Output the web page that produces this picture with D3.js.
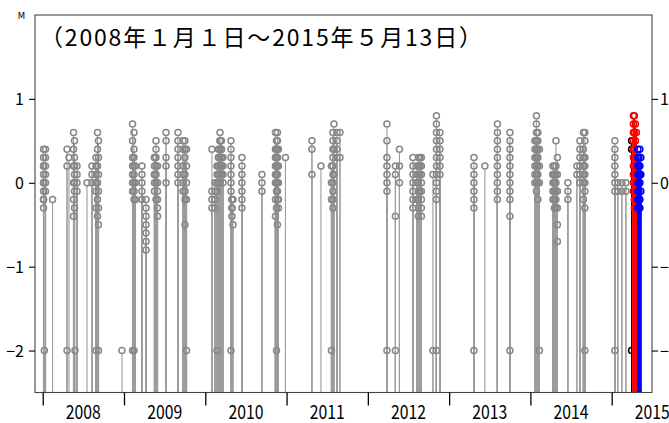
<!DOCTYPE html>
<html><head><meta charset="utf-8">
<script src="https://cdn.jsdelivr.net/npm/d3@7"></script>
<style>body{margin:0;background:#fff;} svg{display:block;}</style>
</head><body><svg id="c" width="669" height="423"></svg>
<script>
// ---- data (decimal year, list of magnitudes at that time) ----
const titleText = "（2008年１月１日～2015年５月13日）";
const yTickValues = [1, 0, -1, -2];
const yTickLabels = ["1", "0", "−1", "−2"];
const yearTicks = [2008, 2009, 2010, 2011, 2012, 2013, 2014, 2015];
const yearLabels = ["2008", "2009", "2010", "2011", "2012", "2013", "2014", "2015"];

const grayTimes = [2008.010, 2008.020, 2008.034, 2008.121, 2008.299, 2008.323, 2008.379, 2008.391, 2008.397, 2008.422,
  2008.545, 2008.606, 2008.656, 2008.674, 2008.686, 2008.975, 2009.105, 2009.123, 2009.141, 2009.221,
  2009.271, 2009.375, 2009.394, 2009.412, 2009.517, 2009.664, 2009.726, 2009.750, 2009.769, 2010.082,
  2010.119, 2010.144, 2010.162, 2010.181, 2010.199, 2010.218, 2010.316, 2010.328, 2010.341, 2010.451,
  2010.697, 2010.863, 2010.876, 2010.888, 2010.900, 2010.986, 2011.312, 2011.423, 2011.552, 2011.571,
  2011.583, 2011.620, 2011.657, 2012.235, 2012.339, 2012.389, 2012.555, 2012.604, 2012.622, 2012.641,
  2012.659, 2012.801, 2012.844, 2012.887, 2013.305, 2013.440, 2013.594, 2013.748, 2014.055, 2014.074,
  2014.092, 2014.111, 2014.277, 2014.295, 2014.314, 2014.332, 2014.461, 2014.572, 2014.609, 2014.652,
  2014.670, 2015.039, 2015.076, 2015.126, 2015.175];
const grayMags = [
  [0.4,0.3,0.2,0.1,0.0,-0.1,-0.2,-0.3,0.2,0.0,-0.2], [-2], [0.4,0.3,0.2,0.1,0.0,-0.1], [-0.2],
  [0.4,0.2,-2], [0.3], [0.6,0.4,0.2,0.0,-0.2,-0.4], [0.5,0.3,0.1,-0.1,-0.3,0.2,0.0], [-2], [0.2,0.1,0.0,-0.1],
  [0.0], [0.2,0.1,0.0], [0.3,0.1,-0.1,-0.3,-2,0.2,0.0], [0.6,0.4,0.2,0.0,-0.2,-0.4], [0.5,0.3,0.1,-0.1,-0.3,-0.5,-2],
  [-2], [0.7,0.5,0.3,0.1,-0.1,-2,0.2,0.0], [0.6,0.4,0.2,0.0,-0.2,0.3,0.1,-0.1,-2], [0.2,0.0,-0.2], [0.2,0.1,0.0,-0.1,-0.2],
  [-0.2,-0.3,-0.4,-0.5,-0.6,-0.7,-0.8], [0.3,0.2,0.1,0.0,-0.1,0.3,0.1], [0.5,0.4,0.3,0.2,0.1,0.0,-0.2], [0.2,0.0,-0.1,-0.2,-0.3,-0.4],
  [0.6,0.5,0.3,0.2,0.0], [0.6,0.5,0.4,0.3,0.2,0.1,0.0], [0.5,0.4,0.2,0.0,-0.1,0.1], [0.5,0.3,0.1,-0.1,-0.2,-0.5,0.4],
  [0.2,0.0,-0.2,-2,0.4], [0.4,-0.1,-0.2,-0.3],
  [-0.1,-0.2,-0.3,0.0], [-2,0.1,0.0,-0.1,0.2], [0.4,0.3,0.2,0.1,0.0,0.3], [0.6,0.5,0.4,0.3,0.2,0.1,0.0,0.2,0.5],
  [0.5,0.4,0.3,0.2,0.1,0.4,0.2], [0.3,0.2,0.1,0.0], [0.5,0.4,0.3,0.2,0.1,0.0,-0.1,-2], [-0.2,-0.2,-0.3,-0.4,-0.3],
  [-0.5,-0.2], [0.3,0.2,0.1,0.0,-0.1,-0.2,-0.3],
  [0.1,0.0,-0.1], [0.6,0.4,0.2,0.0,-0.2,-0.4,0.3,0.1], [0.5,0.3,0.1,-0.1,-0.3,-2,0.4,0.2,0.0],
  [0.6,0.5,0.4,0.3,0.2,0.1,0.0,-0.1,-0.2,-0.5], [0.4,0.2,0.0,-0.2,-0.3], [0.3], [0.5,0.4,0.1], [0.2],
  [-2,0.2,0.0,-0.2], [0.6,0.5,0.4,0.3,0.2,0.1,0.0,-0.1,-0.2,-0.3],
  [0.7,0.4,0.1], [0.6,0.5,0.4,0.3], [0.6,0.3], [0.7,0.5,0.3,0.2,0.1,0.0,-0.1,-2], [0.2,0.1,-0.4,-2], [0.4,0.2,0.0],
  [0.3,0.1,0.0,-0.1,-0.2,-0.3,0.2], [0.2,0.0,-0.2,0.1], [0.3,0.2,0.1,0.0,-0.1,-0.2,-0.3,-0.4], [0.3,0.1,-0.1,0.2],
  [0.3,0.2,0.1,0.0,-0.1,-0.2,-0.3,-0.4], [0.1,-2], [0.8,0.7,0.6,0.5,0.4,0.3,0.2,0.1,0.0,-0.1,-0.2,-2], [0.6,0.5,0.4,0.3,0.2,0.1],
  [0.3,0.2,0.1,0.0,-0.1,-0.2,-0.3,-2], [0.2], [0.7,0.6,0.5,0.4,0.3,0.2,0.1,0.0,-0.1,-0.2],
  [0.6,0.5,0.4,0.3,0.2,0.1,0.0,-0.1,-0.2,-0.4,-2], [0.5,0.4,0.3,0.2,0.1,0.0], [0.8,0.7,0.6,0.5,0.4,0.3,0.2,0.1,0.0,-0.1],
  [0.6,0.5,0.4,0.3,0.2,0.1,0.0,-0.2], [0.4,0.2,0.0,-2], [0.2,0.1,0.0,-0.1,-0.2,0.1], [0.2,0.1,0.0,-0.1,-0.2,-0.3],
  [0.5,0.2,0.1,0.0,-0.1,-0.2,-0.3], [0.3,0.1,-0.1,-0.3,-0.5,-0.7], [0.0,-0.1,-0.2], [0.2,0.1], [0.5,0.4,0.3,0.2,0.1,0.0],
  [0.6,0.4,0.2,0.0,-0.2,0.3,0.1], [0.6,0.5,0.3,0.1,-0.1,-0.3,-2,0.2,0.0], [0.5,0.4,0.3,0.2,0.1,0.0,-0.1,-2],
  [0.0,-0.1], [0.0,-0.1], [0.0,-0.1]];

const blackTimes = [2015.245];
const blackMags = [[0.5, 0.4, -2]];

const redTimes = [2015.267, 2015.279, 2015.292, 2015.304];
const redMags = [[0.8,0.7,0.6,0.5,0.4,0.3,0.2,0.1,0.0,-0.1], [0.8,0.6,0.4,0.2,0.0,-0.2,-0.3],
  [0.7,0.5,0.3,0.1,-0.1,-0.4], [0.6,0.2,0.0,-0.2]];

const blueTimes = [2015.322, 2015.335, 2015.347, 2015.359];
const blueMags = [[0.4,0.3,0.2,0.1,0.0,-0.1,-0.2,-0.3], [0.3,0.2,0.1,0.0,-0.1,-0.2,-0.3],
  [0.4,0.2,0.0,-0.2,-0.3,0.1], [0.3,0.1,-0.1]];

// ---- chart ----
const L = 35, R = 652, T = 15, B = 392.5;
const svg = d3.select("#c");
const x = d3.scaleLinear().domain([2007.905, 2015.496]).range([L, R]);
const y = d3.scaleLinear().domain([-2.5, 2.0]).range([B, T]);
const FONT = "'Noto Sans CJK JP', 'Noto Sans', sans-serif";

svg.append("defs").append("clipPath").attr("id", "pc")
  .append("rect").attr("x", L).attr("y", T).attr("width", R - L).attr("height", B - T);

function flatten(times, mags) {
  const out = [];
  times.forEach((t, i) => mags[i].forEach(m => out.push({ t, m })));
  return out;
}

const groups = [
  { data: flatten(grayTimes, grayMags), line: "#9c9c9c", dot: "#878787", lw: 1.1 },
  { data: flatten(blackTimes, blackMags), line: "#000", dot: "#000", lw: 1 },
  { data: flatten(redTimes, redMags), line: "#ff0000", dot: "#ff0000", lw: 1.2 },
  { data: flatten(blueTimes, blueMags), line: "#0000ff", dot: "#0000ff", lw: 1.2 }
];
const r = 3;
const plot = svg.append("g").attr("clip-path", "url(#pc)");
groups.forEach(g => {
  plot.append("g").selectAll("line").data(g.data).join("line")
    .attr("x1", d => x(d.t)).attr("x2", d => x(d.t))
    .attr("y1", d => y(d.m) + r).attr("y2", B)
    .attr("stroke", g.line).attr("stroke-width", g.lw);
  plot.append("g").selectAll("circle").data(g.data).join("circle")
    .attr("cx", d => x(d.t)).attr("cy", d => y(d.m)).attr("r", r)
    .attr("fill", "none").attr("stroke", g.dot).attr("stroke-width", 1.5);
});

// frame
svg.append("rect").attr("x", L).attr("y", T).attr("width", R - L).attr("height", B - T)
  .attr("fill", "none").attr("stroke", "#444").attr("stroke-width", 1.1);

// left axis
const ax = svg.append("g").attr("transform", `translate(${L},0)`)
  .call(d3.axisLeft(y).tickValues(yTickValues).tickSize(6).tickFormat((d, i) => yTickLabels[i]));
ax.select(".domain").remove();
ax.selectAll("line").attr("stroke", "#000").attr("stroke-width", 1.1);
ax.selectAll("text").attr("x", -11).attr("dy", "0.36em")
  .attr("font-family", FONT).attr("font-size", 16).attr("fill", "#000");

// right axis
const ar = svg.append("g").attr("transform", `translate(${R},0)`)
  .call(d3.axisRight(y).tickValues(yTickValues).tickSize(6).tickFormat((d, i) => yTickLabels[i]));
ar.select(".domain").remove();
ar.selectAll("line").attr("stroke", "#000").attr("stroke-width", 1.1);
ar.selectAll("text").attr("x", 8).attr("dy", "0.36em")
  .attr("font-family", FONT).attr("font-size", 16).attr("fill", "#000");

// bottom axis (ticks at year boundaries)
const ab = svg.append("g").attr("transform", `translate(0,${B})`)
  .call(d3.axisBottom(x).tickValues(yearTicks).tickSize(13).tickFormat(""));
ab.select(".domain").remove();
ab.selectAll("line").attr("stroke", "#000").attr("stroke-width", 1.3);

svg.append("g").selectAll("text").data(yearTicks).join("text")
  .attr("x", d => x(d + 0.5)).attr("y", 419)
  .attr("text-anchor", "middle")
  .attr("font-family", FONT).attr("font-size", 19)
  .attr("textLength", 35).attr("lengthAdjust", "spacingAndGlyphs")
  .text((d, i) => yearLabels[i]);

// M label
svg.append("text").attr("x", 21.5).attr("y", 19).attr("text-anchor", "middle")
  .attr("font-family", "'DejaVu Sans', sans-serif").attr("font-size", 8.5).text("M");

// title
svg.append("text").attr("x", 40).attr("y", 46)
  .attr("font-family", FONT).attr("font-size", 23)
  .attr("textLength", 442).attr("lengthAdjust", "spacing")
  .text(titleText);
</script></body></html>
